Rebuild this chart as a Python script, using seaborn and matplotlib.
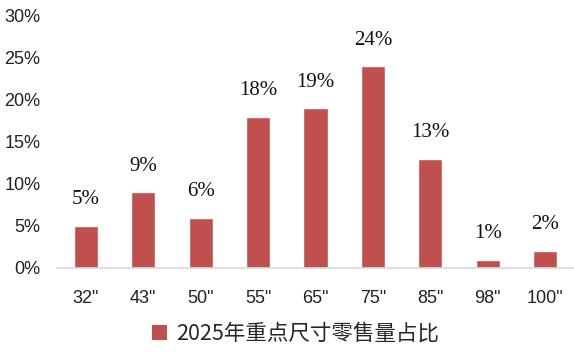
import matplotlib
matplotlib.use("Agg")
import matplotlib.pyplot as plt
import seaborn as sns
import pandas as pd
from matplotlib.patches import Patch

categories = ['32"', '43"', '50"', '55"', '65"', '75"', '85"', '98"', '100"']
values = [5, 9, 6, 18, 19, 24, 13, 1, 2]
yticks = [0, 5, 10, 15, 20, 25, 30]
legend_label = "2025年重点尺寸零售量占比"

sns.set_theme(style="white")
plt.rcParams['font.family'] = ['Liberation Sans', 'Noto Sans CJK SC', 'DejaVu Sans']

df = pd.DataFrame({"size": categories, "share": values})

fig = plt.figure(figsize=(5.74, 3.54), dpi=100)
ax = fig.add_axes([57/574, 1-268/354, 517/574, (268-16)/354])
sns.barplot(data=df, x="size", y="share", color="#C0504D", saturation=1,
            width=0.42, ax=ax)
ax.set_ylim(0, 30)
ax.set_xlim(-0.5, 8.5)
ax.set_yticks(yticks)
ax.set_yticklabels([f"{v}%" for v in yticks], fontsize=13, color="#222222")
ax.tick_params(axis='x', labelsize=13, colors="#222222", length=0, pad=16)
ax.tick_params(axis='y', length=0, pad=12)
ax.set_xlabel("")
ax.set_ylabel("")
for s in ["top", "right", "left"]:
    ax.spines[s].set_visible(False)
ax.spines["bottom"].set_color("#d9d9d9")
ax.spines["bottom"].set_linewidth(1.2)

for i, v in enumerate(values):
    ax.text(i, v + 2.0, f"{v}%", ha="center", va="bottom", fontsize=15,
            family="Liberation Serif", color="#111111")

handles = [Patch(facecolor="#C0504D", edgecolor="none")]
fig.legend(handles, [legend_label], loc="center", bbox_to_anchor=(0.515, 1-334/354),
           frameon=False, handlelength=0.7, handleheight=0.7,
           handletextpad=0.45, prop={'family': ['Noto Sans CJK SC', 'DejaVu Sans'], 'size': 15.5})

fig.savefig("out.png", dpi=100)
